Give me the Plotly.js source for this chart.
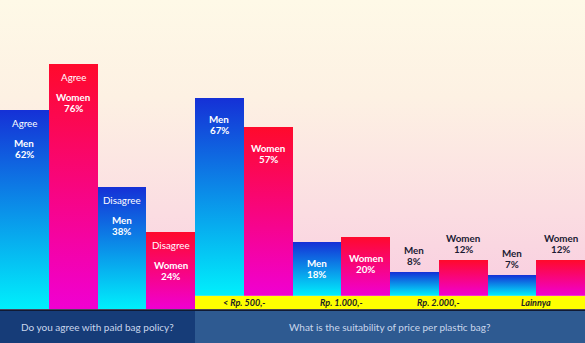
<!DOCTYPE html>
<html><head><meta charset="utf-8">
<script src="https://cdn.plot.ly/plotly-3.0.1.min.js"></script>
<style>
html,body{margin:0;padding:0;}
#chart{width:585px;height:343px;background:linear-gradient(to bottom,#fef9e7 0%,#fdf1e3 28%,#fbdde2 62%,#f7c3de 100%);}
</style></head><body><div id="chart"></div>
<script>
// ---- data ----
const policyCats = ["Agree", "Disagree"];
const policyMen = [62, 38];
const policyWomen = [76, 24];
const priceCats = ["< Rp. 500,-", "Rp. 1.000,-", "Rp. 2.000,-", "Lainnya"];
const priceMen = [67, 18, 8, 7];
const priceWomen = [57, 20, 12, 12];
const groupNames = ["Men", "Women"];
const sectionTitles = ["Do you agree with paid bag policy?", "What is the suitability of price per plastic bag?"];

// ---- layout constants ----
const W = 585, H = 343;
const FONT = "Lato, 'Open Sans', sans-serif";
const allCats = policyCats.concat(priceCats);
const barPx = W / (allCats.length * 2);
const yDomBottom = 0.0983, y2DomBottom = 0.1379, footerTop = 0.0933;
const yMax = 96, y2Max = 100;
const y2Scale = (H * (1 - y2DomBottom)) / y2Max;
const LBL = 9.8;

const traces = [
  {type: 'bar', name: groupNames[0], x: policyCats, y: policyMen, xaxis: 'x', yaxis: 'y', marker: {color: '#0a7ee8', line: {width: 0}}, hoverinfo: 'none'},
  {type: 'bar', name: groupNames[1], x: policyCats, y: policyWomen, xaxis: 'x', yaxis: 'y', marker: {color: '#f7007d', line: {width: 0}}, hoverinfo: 'none'},
  {type: 'bar', name: groupNames[0], x: priceCats, y: priceMen, xaxis: 'x', yaxis: 'y2', marker: {color: '#0a7ee8', line: {width: 0}}, hoverinfo: 'none'},
  {type: 'bar', name: groupNames[1], x: priceCats, y: priceWomen, xaxis: 'x', yaxis: 'y2', marker: {color: '#f7007d', line: {width: 0}}, hoverinfo: 'none'}
];

const annotations = [];
function addLabel(cat, val, gi, yref, inside, nameOff, pctOff, qText) {
  const xs = (gi === 0 ? -1 : 1) * barPx / 2;
  const col = inside ? '#ffffff' : '#1b1b33';
  const sign = inside ? -1 : 1;
  annotations.push({xref: 'x', yref: yref, x: cat, y: val, xshift: xs, yshift: sign * nameOff, xanchor: 'center', yanchor: 'middle', showarrow: false,
    text: '<b>' + groupNames[gi] + '</b>', font: {family: FONT, size: LBL, color: col}});
  annotations.push({xref: 'x', yref: yref, x: cat, y: val, xshift: xs, yshift: sign * pctOff, xanchor: 'center', yanchor: 'middle', showarrow: false,
    text: '<b>' + val + '%</b>', font: {family: FONT, size: LBL, color: col}});
  if (qText) {
    annotations.push({xref: 'x', yref: yref, x: cat, y: val, xshift: xs, yshift: -13, xanchor: 'center', yanchor: 'middle', showarrow: false,
      text: qText, font: {family: FONT, size: LBL, color: '#ffffff'}});
  }
}
policyCats.forEach((c, i) => {
  addLabel(c, policyMen[i], 0, 'y', true, 33, 44, c);
  addLabel(c, policyWomen[i], 1, 'y', true, 33, 44, c);
});
priceCats.forEach((c, i) => {
  [priceMen[i], priceWomen[i]].forEach((v, gi) => {
    const inside = v * y2Scale > 40;
    addLabel(c, v, gi, 'y2', inside, inside ? 21 : 22, inside ? 32 : 11, null);
  });
  annotations.push({xref: 'x', yref: 'paper', x: c, y: (yDomBottom + y2DomBottom) / 2, xanchor: 'center', yanchor: 'middle', showarrow: false,
    text: '<b><i>' + c + '</i></b>', font: {family: FONT, size: 9, color: '#222222'}});
});
const split = policyCats.length / allCats.length;
annotations.push({xref: 'paper', yref: 'paper', x: split / 2, y: footerTop / 2, xanchor: 'center', yanchor: 'middle', showarrow: false,
  text: sectionTitles[0], font: {family: FONT, size: 10, color: '#c9d6ec'}});
annotations.push({xref: 'paper', yref: 'paper', x: (split + 1) / 2, y: footerTop / 2, xanchor: 'center', yanchor: 'middle', showarrow: false,
  text: sectionTitles[1], font: {family: FONT, size: 10, color: '#c9d6ec'}});

const layout = {
  width: W, height: H, margin: {l: 0, r: 0, t: 0, b: 0, pad: 0},
  paper_bgcolor: 'rgba(0,0,0,0)', plot_bgcolor: 'rgba(0,0,0,0)',
  showlegend: false, barmode: 'group', bargap: 0, bargroupgap: 0,
  xaxis: {type: 'category', categoryorder: 'array', categoryarray: allCats, range: [-0.5, allCats.length - 0.5], visible: false, fixedrange: true},
  yaxis: {domain: [yDomBottom, 1], range: [0, yMax], visible: false, fixedrange: true},
  yaxis2: {domain: [y2DomBottom, 1], range: [0, y2Max], visible: false, anchor: 'x', fixedrange: true},
  shapes: [
    {type: 'rect', xref: 'paper', yref: 'paper', x0: split, x1: 1, y0: yDomBottom, y1: y2DomBottom, fillcolor: '#ffff00', line: {width: 0}, layer: 'below'},
    {type: 'rect', xref: 'paper', yref: 'paper', x0: 0, x1: split, y0: 0, y1: footerTop, fillcolor: '#163c78', line: {width: 0}},
    {type: 'rect', xref: 'paper', yref: 'paper', x0: split, x1: 1, y0: 0, y1: footerTop, fillcolor: '#2e5a91', line: {width: 0}},
    {type: 'rect', xref: 'paper', yref: 'paper', x0: 0, x1: 1, y0: footerTop, y1: yDomBottom, fillcolor: '#111a33', line: {width: 0}}
  ],
  annotations: annotations
};

Plotly.newPlot('chart', traces, layout, {staticPlot: true, displayModeBar: false}).then(gd => {
  const svg = gd.querySelector('svg.main-svg');
  const ns = 'http://www.w3.org/2000/svg';
  let defs = svg.querySelector('defs');
  if (!defs) { defs = document.createElementNS(ns, 'defs'); svg.insertBefore(defs, svg.firstChild); }
  function grad(id, top, bot) {
    const g = document.createElementNS(ns, 'linearGradient');
    g.setAttribute('id', id); g.setAttribute('x1', '0'); g.setAttribute('y1', '0'); g.setAttribute('x2', '0'); g.setAttribute('y2', '1');
    [['0', top], ['1', bot]].forEach(([o, c]) => {
      const s = document.createElementNS(ns, 'stop'); s.setAttribute('offset', o); s.setAttribute('stop-color', c); g.appendChild(s);
    });
    defs.appendChild(g);
  }
  grad('gMen', '#1530d6', '#00f0fc');
  grad('gWomen', '#ff0a2c', '#f000d2');
  gd.querySelectorAll('.barlayer .trace').forEach(tr => {
    const d = tr.__data__;
    const nm = d && d[0] && d[0].trace ? d[0].trace.name : '';
    tr.querySelectorAll('path').forEach(p => { p.style.fill = 'url(#' + (nm === groupNames[0] ? 'gMen' : 'gWomen') + ')'; });
  });
});
</script></body></html>
